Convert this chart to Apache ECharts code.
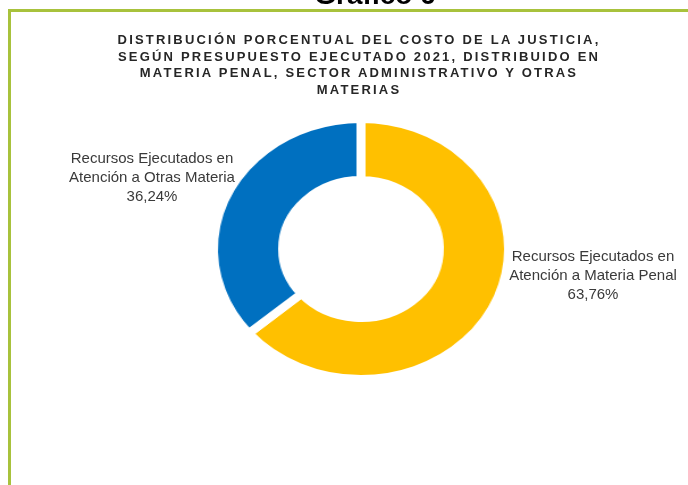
<!DOCTYPE html>
<html>
<head>
<meta charset="utf-8">
<script src="https://cdn.jsdelivr.net/npm/echarts@6/dist/echarts.min.js"></script>
<style>
    html, body { margin: 0; padding: 0; background: #fff; }
    #wrap { position: relative; width: 688px; height: 485px; overflow: hidden; }
    #main, #title { position: absolute; left: 0; top: 0; width: 688px; height: 485px; }
    /* the donut in the original is wider than tall */
    #pie { position: absolute; left: 211px; top: 114px; width: 300px; height: 270px;
           transform: scaleX(1.135); transform-origin: 50% 50%; }
    #title svg text { letter-spacing: 2.2px; }
</style>
</head>
<body>
<div id="wrap">
    <div id="pie"></div>
    <div id="main"></div>
    <div id="title"></div>
</div>
<script>
    var categories = ["Recursos Ejecutados en Atención a Materia Penal", "Recursos Ejecutados en Atención a Otras Materia"];
    var labelLines = [["Recursos Ejecutados en", "Atención a Materia Penal"], ["Recursos Ejecutados en", "Atención a Otras Materia"]];
    var percents = [63.76, 36.24];
    var chartNumber = "Gráfico 6";
    var titleLines = [
        "DISTRIBUCIÓN PORCENTUAL DEL COSTO DE LA JUSTICIA,",
        "SEGÚN PRESUPUESTO EJECUTADO 2021, DISTRIBUIDO EN",
        "MATERIA PENAL, SECTOR ADMINISTRATIVO Y OTRAS",
        "MATERIAS"
    ];

    var sliceColors = ["#FFC000", "#0070C0"];
    var labelPos = [[593, 247], [152, 149]];
    var fontFamily = "'Liberation Sans', Arial, sans-serif";

    function fmtPct(v) {
        return v.toFixed(2).replace(".", ",") + "%";
    }

    // donut
    var pieChart = echarts.init(document.getElementById("pie"));
    var pieData = [];
    for (var i = 0; i < categories.length; i++) {
        pieData.push({name: categories[i], value: percents[i], itemStyle: {color: sliceColors[i]}});
    }
    pieChart.setOption({
        animation: false,
        series: [{
            type: "pie",
            center: ["50%", "50%"],
            radius: [69, 130],
            startAngle: 90,
            clockwise: true,
            label: {show: false},
            labelLine: {show: false},
            emphasis: {disabled: true},
            itemStyle: {borderColor: "#fff", borderWidth: 8},
            data: pieData
        }]
    });

    // frame, chart number and slice labels
    var mainChart = echarts.init(document.getElementById("main"));
    var graphics = [{
        type: "rect",
        shape: {x: 9.5, y: 10.5, width: 900, height: 700},
        style: {fill: null, stroke: "#A8C23C", lineWidth: 3}
    }, {
        type: "text",
        x: 375, y: 10,
        style: {
            text: chartNumber, font: "bold 28px " + fontFamily, fill: "#000",
            textAlign: "center", textVerticalAlign: "bottom"
        }
    }];
    for (var j = 0; j < categories.length; j++) {
        graphics.push({
            type: "text",
            x: labelPos[j][0], y: labelPos[j][1],
            style: {
                text: labelLines[j].join("\n") + "\n" + fmtPct(percents[j]),
                font: "15px " + fontFamily, fill: "#3a3a3a", lineHeight: 19,
                textAlign: "center", textVerticalAlign: "top"
            }
        });
    }
    mainChart.setOption({animation: false, graphic: graphics});

    // title, svg so the letter spacing can be set
    var titleChart = echarts.init(document.getElementById("title"), null, {renderer: "svg"});
    titleChart.setOption({
        animation: false,
        graphic: [{
            type: "text",
            x: 359, y: 31,
            style: {
                text: titleLines.join("\n"), font: "bold 13px " + fontFamily, fill: "#262626",
                lineHeight: 16.7, textAlign: "center", textVerticalAlign: "top"
            }
        }]
    });
</script>
</body>
</html>
